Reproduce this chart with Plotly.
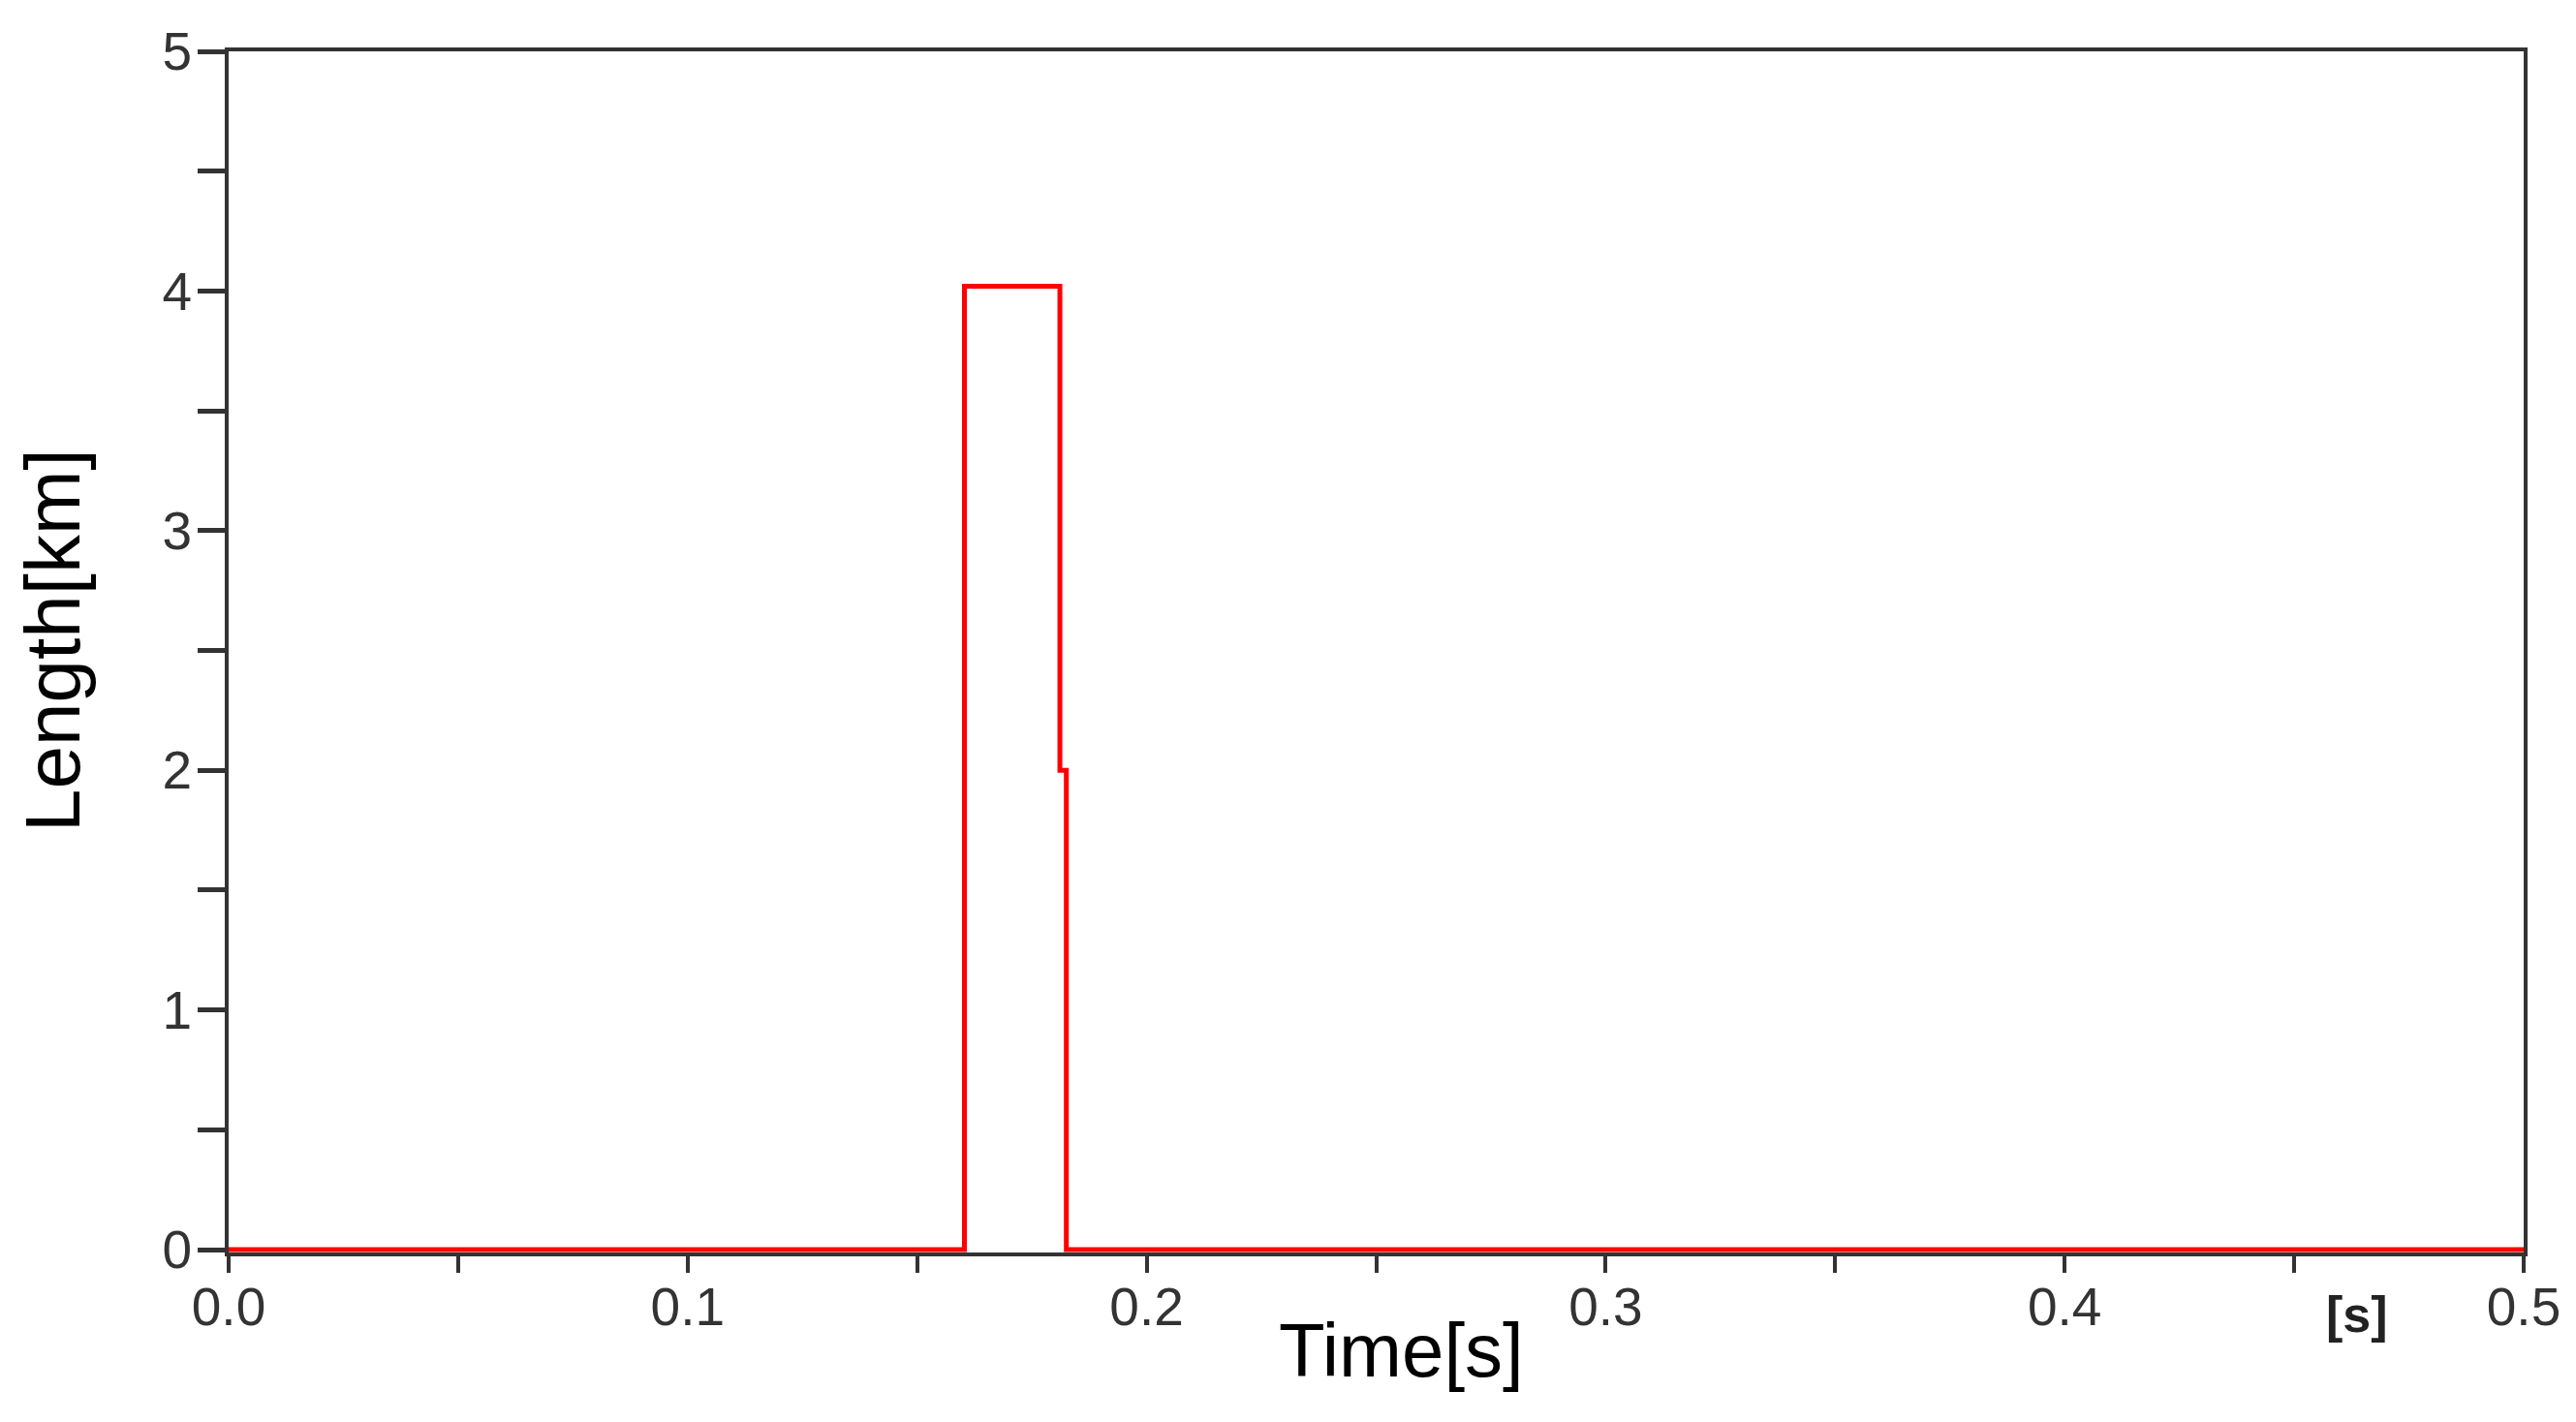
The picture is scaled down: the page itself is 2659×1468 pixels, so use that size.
import plotly.graph_objects as go

# Data
time_s = [0.0, 0.1603, 0.1603, 0.1811, 0.1811, 0.1825, 0.1825, 0.5]
length_km = [0.0, 0.0, 4.02, 4.02, 2.0, 2.0, 0.0, 0.0]

x_tickvals = [0.0, 0.1, 0.2, 0.3, 0.4, 0.5]
x_ticktext = ["0.0", "0.1", "0.2", "0.3", "0.4", "0.5"]
y_tickvals = [0, 1, 2, 3, 4, 5]
y_ticktext = ["0", "1", "2", "3", "4", "5"]

FONT = "Liberation Sans, Arial, sans-serif"
AX = "#333333"

fig = go.Figure()
fig.add_trace(go.Scatter(
    x=time_s, y=length_km, mode="lines",
    line=dict(color="#ff0000", width=5),
    showlegend=False, hoverinfo="skip",
))

fig.update_layout(
    width=2651, height=1460,
    paper_bgcolor="white", plot_bgcolor="white",
    margin=dict(l=228, r=54, t=45, b=175, pad=0),
    font=dict(family=FONT, color=AX, size=55),
    xaxis=dict(
        range=[0, 0.5], tickvals=x_tickvals, ticktext=x_ticktext,
        showgrid=False, zeroline=False, automargin=False,
        showline=True, linecolor=AX, linewidth=4, mirror=True,
        ticks="outside", ticklen=17, tickwidth=4, tickcolor=AX,
        minor=dict(dtick=0.05, tick0=0, ticks="outside", ticklen=17,
                   tickwidth=4, tickcolor=AX, showgrid=False),
        tickfont=dict(family=FONT, size=55, color=AX),
        ticklabelstandoff=-12,
        layer="below traces",
    ),
    yaxis=dict(
        range=[-0.012, 5], tickvals=y_tickvals, ticktext=y_ticktext,
        showgrid=False, zeroline=False, automargin=False,
        showline=True, linecolor=AX, linewidth=4, mirror=True,
        ticks="outside", ticklen=28, tickwidth=5, tickcolor=AX,
        minor=dict(dtick=0.5, tick0=0, ticks="outside", ticklen=28,
                   tickwidth=5, tickcolor=AX, showgrid=False),
        tickfont=dict(family=FONT, size=55, color=AX),
        ticklabelstandoff=-5,
        layer="below traces",
    ),
    annotations=[
        dict(text="Time[s]", xref="paper", yref="paper", x=0.511, y=-0.0815,
             xanchor="center", yanchor="middle", showarrow=False,
             font=dict(family=FONT, size=78, color="black")),
        dict(text="Length[km]", xref="paper", yref="paper", x=-0.0764, y=0.5097,
             xanchor="center", yanchor="middle", showarrow=False, textangle=-90,
             font=dict(family=FONT, size=80, color="black")),
        dict(text="<b>[s]</b>", xref="paper", yref="paper", x=0.9274, y=-0.0516,
             xanchor="center", yanchor="middle", showarrow=False,
             font=dict(family=FONT, size=52, color="#222222")),
    ],
)

fig.write_html("out.html")
